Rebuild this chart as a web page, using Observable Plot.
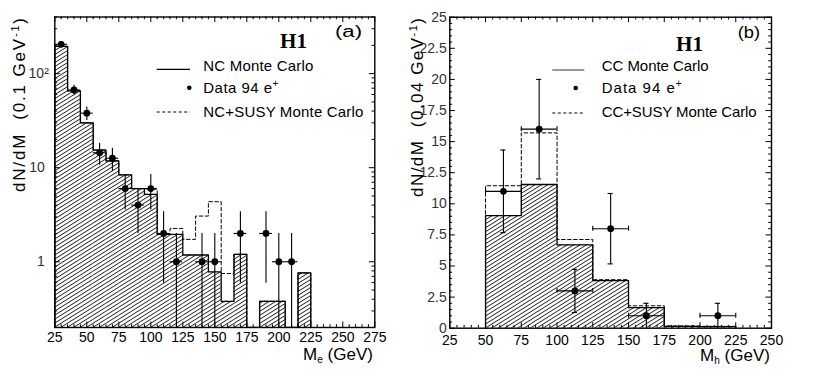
<!DOCTYPE html>
<html><head><meta charset="utf-8">
<script src="https://cdn.jsdelivr.net/npm/d3@7"></script>
<script src="https://cdn.jsdelivr.net/npm/@observablehq/plot@0.6"></script>
<style>
html,body{margin:0;padding:0;background:#fff;}
#root{position:relative;width:817px;height:392px;overflow:hidden;background:#fff;}
#root svg{position:absolute;top:0;}
</style></head><body>
<div id="root"></div>
<script>
// ---------- Panel (a): NC, M_e, 10 GeV bins ----------
const binLoA = [25,35,45,55,65,75,85,95,105,115,125,135,145,155,165,175,185,195,205,215];
const binWidthA = 10;
const ncMC     = [195,65.5,30,15.4,11.8,8.4,6.0,5.2,1.95,1.95,1.18,1.18,0.78,0.38,1.2,0,0.38,0.38,0,0.76];
const ncSusyMC = [195,65.5,30,15.4,11.8,8.4,6.0,5.9,1.95,2.26,1.73,3.06,4.35,0.75,1.2,0,0.38,0.38,0,0.76];
const dataMassA  = [30,40,50,60,70,80,90,100,110,120,140,150,170,190,200,210];
const dataCountA = [205,67,38,14.4,12.6,6,4,6,2,1,1,1,2,2,1,1];
const dataErrA   = [14.3,8.2,6.2,3.8,3.5,2.45,2,2.45,1.41,1,1,1,1.41,1.41,1,1];
const dataXErrA = 5;
const xTicksA = [25,50,75,100,125,150,175,200,225,250,275];
const yTicksA = [1,10,100];
const yTickLabelsA = ["1","10","10²"];

// ---------- Panel (b): CC, M_h, 25 GeV bins ----------
const binLoB = [50,75,100,125,150,175,200];
const binWidthB = 25;
const ccMC     = [9.05,11.55,6.7,3.83,1.66,0.14,0.12];
const ccSusyMC = [11.45,15.7,7.13,3.9,1.8,0.18,0.15];
const dataMassB  = [62.5,87.5,112.5,137.5,162.5,212.5];
const dataCountB = [11,16,3,8,1,1];
const dataErrB   = [3.32,4,1.73,2.83,1,1];
const dataXErrB = 12.5;
const xTicksB = [25,50,75,100,125,150,175,200,225,250];
const yTicksB = [0,2.5,5,7.5,10,12.5,15,17.5,20,22.5,25];

// ---------- helpers ----------
const FONT = '"Liberation Sans", Arial, sans-serif';
function histRows(lo, w, v, floor){
  return lo.map((x,i)=>({x1:x, x2:x+w, y1:floor, y2:v[i]})).filter(d=>d.y2>0);
}
function stepPts(lo, w, v, floor){
  const p=[{x:lo[0], y:floor}];
  lo.forEach((x,i)=>{const y=v[i]>0?v[i]:floor; p.push({x, y},{x:x+w, y});});
  p.push({x:lo[lo.length-1]+w, y:floor});
  return p;
}
function dataRows(xs, ys, es, floor){
  return xs.map((x,i)=>({x, y:ys[i], lo:Math.max(ys[i]-es[i], floor), hi:ys[i]+es[i]}));
}
function tickMarks(xMaj, xMin, yMaj, yMin, fw, fh, L, l){
  const m = [];
  for (const [t,len] of [[xMaj,L],[xMin,l]]) {
    m.push(Plot.ruleX(t, {x:d=>d, insetTop: fh-len, stroke:"#000", strokeWidth:1}));
    m.push(Plot.ruleX(t, {x:d=>d, insetBottom: fh-len, stroke:"#000", strokeWidth:1}));
  }
  for (const [t,len] of [[yMaj,L],[yMin,l]]) {
    m.push(Plot.ruleY(t, {y:d=>d, insetRight: fw-len, stroke:"#000", strokeWidth:1}));
    m.push(Plot.ruleY(t, {y:d=>d, insetLeft: fw-len, stroke:"#000", strokeWidth:1}));
  }
  return m;
}
function addHatch(svg, id){
  const defs = d3.select(svg).insert("defs", ":first-child");
  const p = defs.append("pattern").attr("id", id).attr("patternUnits","userSpaceOnUse")
    .attr("width", 12).attr("height", 3.4).attr("patternTransform","rotate(-32)");
  p.append("rect").attr("x",0).attr("y",0).attr("width",12).attr("height",0.9).attr("fill","#222");
}

// ---------- Panel (a) ----------
const floorA = 0.2;
const mA = {top:16.5, right:25.7, bottom:65, left:54.3};
const wA = 400, hA = 392;
const fwA = wA-mA.left-mA.right, fhA = hA-mA.top-mA.bottom;
const minorXA = d3.range(25, 276, 5).filter(v => (v-25)%25 !== 0);
const minorYA = [0.3,0.4,0.5,0.6,0.7,0.8,0.9,2,3,4,5,6,7,8,9,20,30,40,50,60,70,80,90,200,300,400];
const rowsA = dataRows(dataMassA, dataCountA, dataErrA, floorA);

const plotA = Plot.plot({
  width:wA, height:hA,
  marginTop:mA.top, marginRight:mA.right, marginBottom:mA.bottom, marginLeft:mA.left,
  style:{fontFamily:FONT, fontSize:"14px", color:"#000", background:"transparent"},
  x:{domain:[25,275]},
  y:{type:"log", domain:[floorA,400], axis:null},
  marks:[
    Plot.rect(histRows(binLoA, binWidthA, ncMC, floorA), {x1:"x1", x2:"x2", y1:"y1", y2:"y2", fill:"url(#hatchA)", clip:true}),
    Plot.line(stepPts(binLoA, binWidthA, ncSusyMC, floorA), {x:"x", y:"y", stroke:"#000", strokeWidth:1, strokeDasharray:"3.5,2.5", clip:true}),
    Plot.line(stepPts(binLoA, binWidthA, ncMC, floorA), {x:"x", y:"y", stroke:"#000", strokeWidth:1.3, clip:true}),
    Plot.ruleX(rowsA, {x:"x", y1:"lo", y2:"hi", stroke:"#000", strokeWidth:1.1, clip:true}),
    Plot.ruleY(rowsA, {y:"y", x1:d=>d.x-dataXErrA, x2:d=>d.x+dataXErrA, stroke:"#000", strokeWidth:1.1}),
    Plot.dot(rowsA, {x:"x", y:"y", r:3.4, fill:"#000"}),
    ...tickMarks(xTicksA, minorXA, yTicksA, minorYA, fwA, fhA, 5.5, 2.8),
    Plot.frame({stroke:"#000", strokeWidth:1.4}),
    Plot.axisX(xTicksA, {tickSize:0, tickPadding:4.5, label:null, fontSize:14}),
    Plot.text(yTicksA.slice(0,2), {y:d=>d, text:(d,i)=>yTickLabelsA[i], frameAnchor:"left", textAnchor:"end", dx:-10, fontSize:14, fill:"#333"}),
    Plot.text(yTicksA.slice(2), {y:d=>d, text:(d,i)=>yTickLabelsA[2+i], frameAnchor:"left", textAnchor:"end", dx:-6, fontSize:14, fill:"#333"})
  ]
});
addHatch(plotA, "hatchA");
plotA.style.left = "0px";

// ---------- Panel (b) ----------
const floorB = 0;
const mB = {top:16.7, right:46, bottom:64.3, left:49.3};
const wB = 417, hB = 392;
const fwB = wB-mB.left-mB.right, fhB = hB-mB.top-mB.bottom;
const minorXB = d3.range(25, 251, 5).filter(v => (v-25)%25 !== 0);
const minorYB = d3.range(0, 25.01, 0.5).filter(v => Math.abs(v/2.5 - Math.round(v/2.5)) > 1e-6);
const rowsB = dataRows(dataMassB, dataCountB, dataErrB, floorB);
const capX = 1.8, capY = 0.2;

const plotB = Plot.plot({
  width:wB, height:hB,
  marginTop:mB.top, marginRight:mB.right, marginBottom:mB.bottom, marginLeft:mB.left,
  style:{fontFamily:FONT, fontSize:"14px", color:"#000", background:"transparent"},
  x:{domain:[25,250]},
  y:{domain:[0,25]},
  marks:[
    Plot.rect(histRows(binLoB, binWidthB, ccMC, floorB), {x1:"x1", x2:"x2", y1:"y1", y2:"y2", fill:"url(#hatchB)"}),
    Plot.line(stepPts(binLoB, binWidthB, ccSusyMC, floorB), {x:"x", y:"y", stroke:"#000", strokeWidth:1, strokeDasharray:"3.5,2.5"}),
    Plot.line(stepPts(binLoB, binWidthB, ccMC, floorB), {x:"x", y:"y", stroke:"#000", strokeWidth:1.3}),
    Plot.ruleX(rowsB, {x:"x", y1:"lo", y2:"hi", stroke:"#000", strokeWidth:1.1}),
    Plot.ruleY(rowsB, {y:"hi", x1:d=>d.x-capX, x2:d=>d.x+capX, stroke:"#000", strokeWidth:1.1}),
    Plot.ruleY(rowsB.filter(d=>d.lo>0), {y:"lo", x1:d=>d.x-capX, x2:d=>d.x+capX, stroke:"#000", strokeWidth:1.1}),
    Plot.ruleY(rowsB, {y:"y", x1:d=>d.x-dataXErrB, x2:d=>d.x+dataXErrB, stroke:"#000", strokeWidth:1.1}),
    Plot.ruleX(rowsB, {x:d=>d.x-dataXErrB, y1:d=>d.y-capY, y2:d=>d.y+capY, stroke:"#000", strokeWidth:1.1}),
    Plot.ruleX(rowsB, {x:d=>d.x+dataXErrB, y1:d=>d.y-capY, y2:d=>d.y+capY, stroke:"#000", strokeWidth:1.1}),
    Plot.dot(rowsB, {x:"x", y:"y", r:3.4, fill:"#000"}),
    ...tickMarks(xTicksB, minorXB, yTicksB, minorYB, fwB, fhB, 5.5, 2.8),
    Plot.frame({stroke:"#000", strokeWidth:1.4}),
    Plot.axisX(xTicksB, {tickSize:0, tickPadding:6.5, label:null, fontSize:14}),
    Plot.axisY(yTicksB, {tickSize:0, tickPadding:3, label:null, fontSize:14, tickFormat:d=>String(d), fill:"#333"})
  ]
});
addHatch(plotB, "hatchB");
plotB.style.left = "400px";

const root = document.getElementById("root");
root.appendChild(plotA);
root.appendChild(plotB);

// ---------- annotations (pixel positions within each SVG) ----------
function annotate(svg, o){
  const s = d3.select(svg).append("g").attr("text-anchor","start").attr("font-family",FONT);
  const yl = s.append("text").attr("transform",`translate(${o.yl.x},${o.yl.y}) rotate(-90)`)
    .attr("text-anchor","middle").attr("font-size",17)
    .attr("textLength",o.yl.len).attr("lengthAdjust","spacing");
  yl.append("tspan").text(o.yl.text);
  yl.append("tspan").attr("font-size",11).attr("dy",-6).text("-1");
  yl.append("tspan").attr("dy",6).text(")");
  const xl = s.append("text").attr("x",o.xl.x).attr("y",o.xl.y).attr("font-size",17)
    .attr("textLength",o.xl.len).attr("lengthAdjust","spacing");
  xl.append("tspan").text("M");
  xl.append("tspan").attr("font-size",10).attr("dy",3).text(o.xl.sub);
  xl.append("tspan").attr("dy",-3).text(" (GeV)");
  s.append("text").attr("x",o.h1.x).attr("y",o.h1.y).attr("font-family",'"Liberation Serif","DejaVu Serif",serif')
    .attr("font-weight","bold").attr("font-size",21).attr("textLength",27).attr("lengthAdjust","spacingAndGlyphs").text("H1");
  s.append("text").attr("x",o.tag.x).attr("y",o.tag.y).attr("font-size",16)
    .attr("textLength",o.tag.len).attr("lengthAdjust","spacingAndGlyphs").text(o.tag.text);
  const L = o.leg;
  s.append("line").attr("x1",L.x1).attr("x2",L.x2).attr("y1",L.y[0]).attr("y2",L.y[0]).attr("stroke",L.lineColor).attr("stroke-width",L.lineWidth);
  s.append("circle").attr("cx",L.dotX).attr("cy",L.y[1]).attr("r",2.3).attr("fill","#000");
  s.append("line").attr("x1",L.x1).attr("x2",L.x2).attr("y1",L.y[2]).attr("y2",L.y[2]).attr("stroke","#000").attr("stroke-width",1).attr("stroke-dasharray","3,2.5");
  s.append("text").attr("x",L.tx).attr("y",L.base[0]).attr("font-size",15)
    .attr("textLength",L.len[0]).attr("lengthAdjust","spacing").text(L.texts[0]);
  const t1 = s.append("text").attr("x",L.tx).attr("y",L.base[1]).attr("font-size",15)
    .attr("textLength",L.len[1]).attr("lengthAdjust","spacing");
  t1.append("tspan").text("Data 94 e");
  t1.append("tspan").attr("font-size",10).attr("dy",-6).text("+");
  s.append("text").attr("x",L.tx).attr("y",L.base[2]).attr("font-size",15)
    .attr("textLength",L.len[2]).attr("lengthAdjust","spacing").text(L.texts[2]);
}

annotate(plotA, {
  yl:{x:24.5, y:105, len:174, text:"dN/dM  (0.1 GeV"},
  xl:{x:303, y:359.5, len:70, sub:"e"},
  h1:{x:280, y:48.3},
  tag:{x:335, y:37, len:27, text:"(a)"},
  leg:{x1:156.7, x2:190, dotX:189.3, y:[69.3,87.7,112], tx:203.3, base:[71,92.7,116.7],
       len:[110,75,160], texts:["NC Monte Carlo","Data 94 e+","NC+SUSY Monte Carlo"], lineColor:"#000", lineWidth:1.3}
});
annotate(plotB, {
  yl:{x:22.5, y:107.5, len:179, text:"dN/dM  (0.04 GeV"},
  xl:{x:300, y:361, len:70, sub:"h"},
  h1:{x:276, y:50.5},
  tag:{x:337.7, y:37.5, len:22.3, text:"(b)"},
  leg:{x1:152.3, x2:184.3, dotX:175.7, y:[70,88,113], tx:201.7, base:[71,92.7,116.7],
       len:[107,80,155], texts:["CC Monte Carlo","Data 94 e+","CC+SUSY Monte Carlo"], lineColor:"#777", lineWidth:1.6}
});
</script>
</body></html>
